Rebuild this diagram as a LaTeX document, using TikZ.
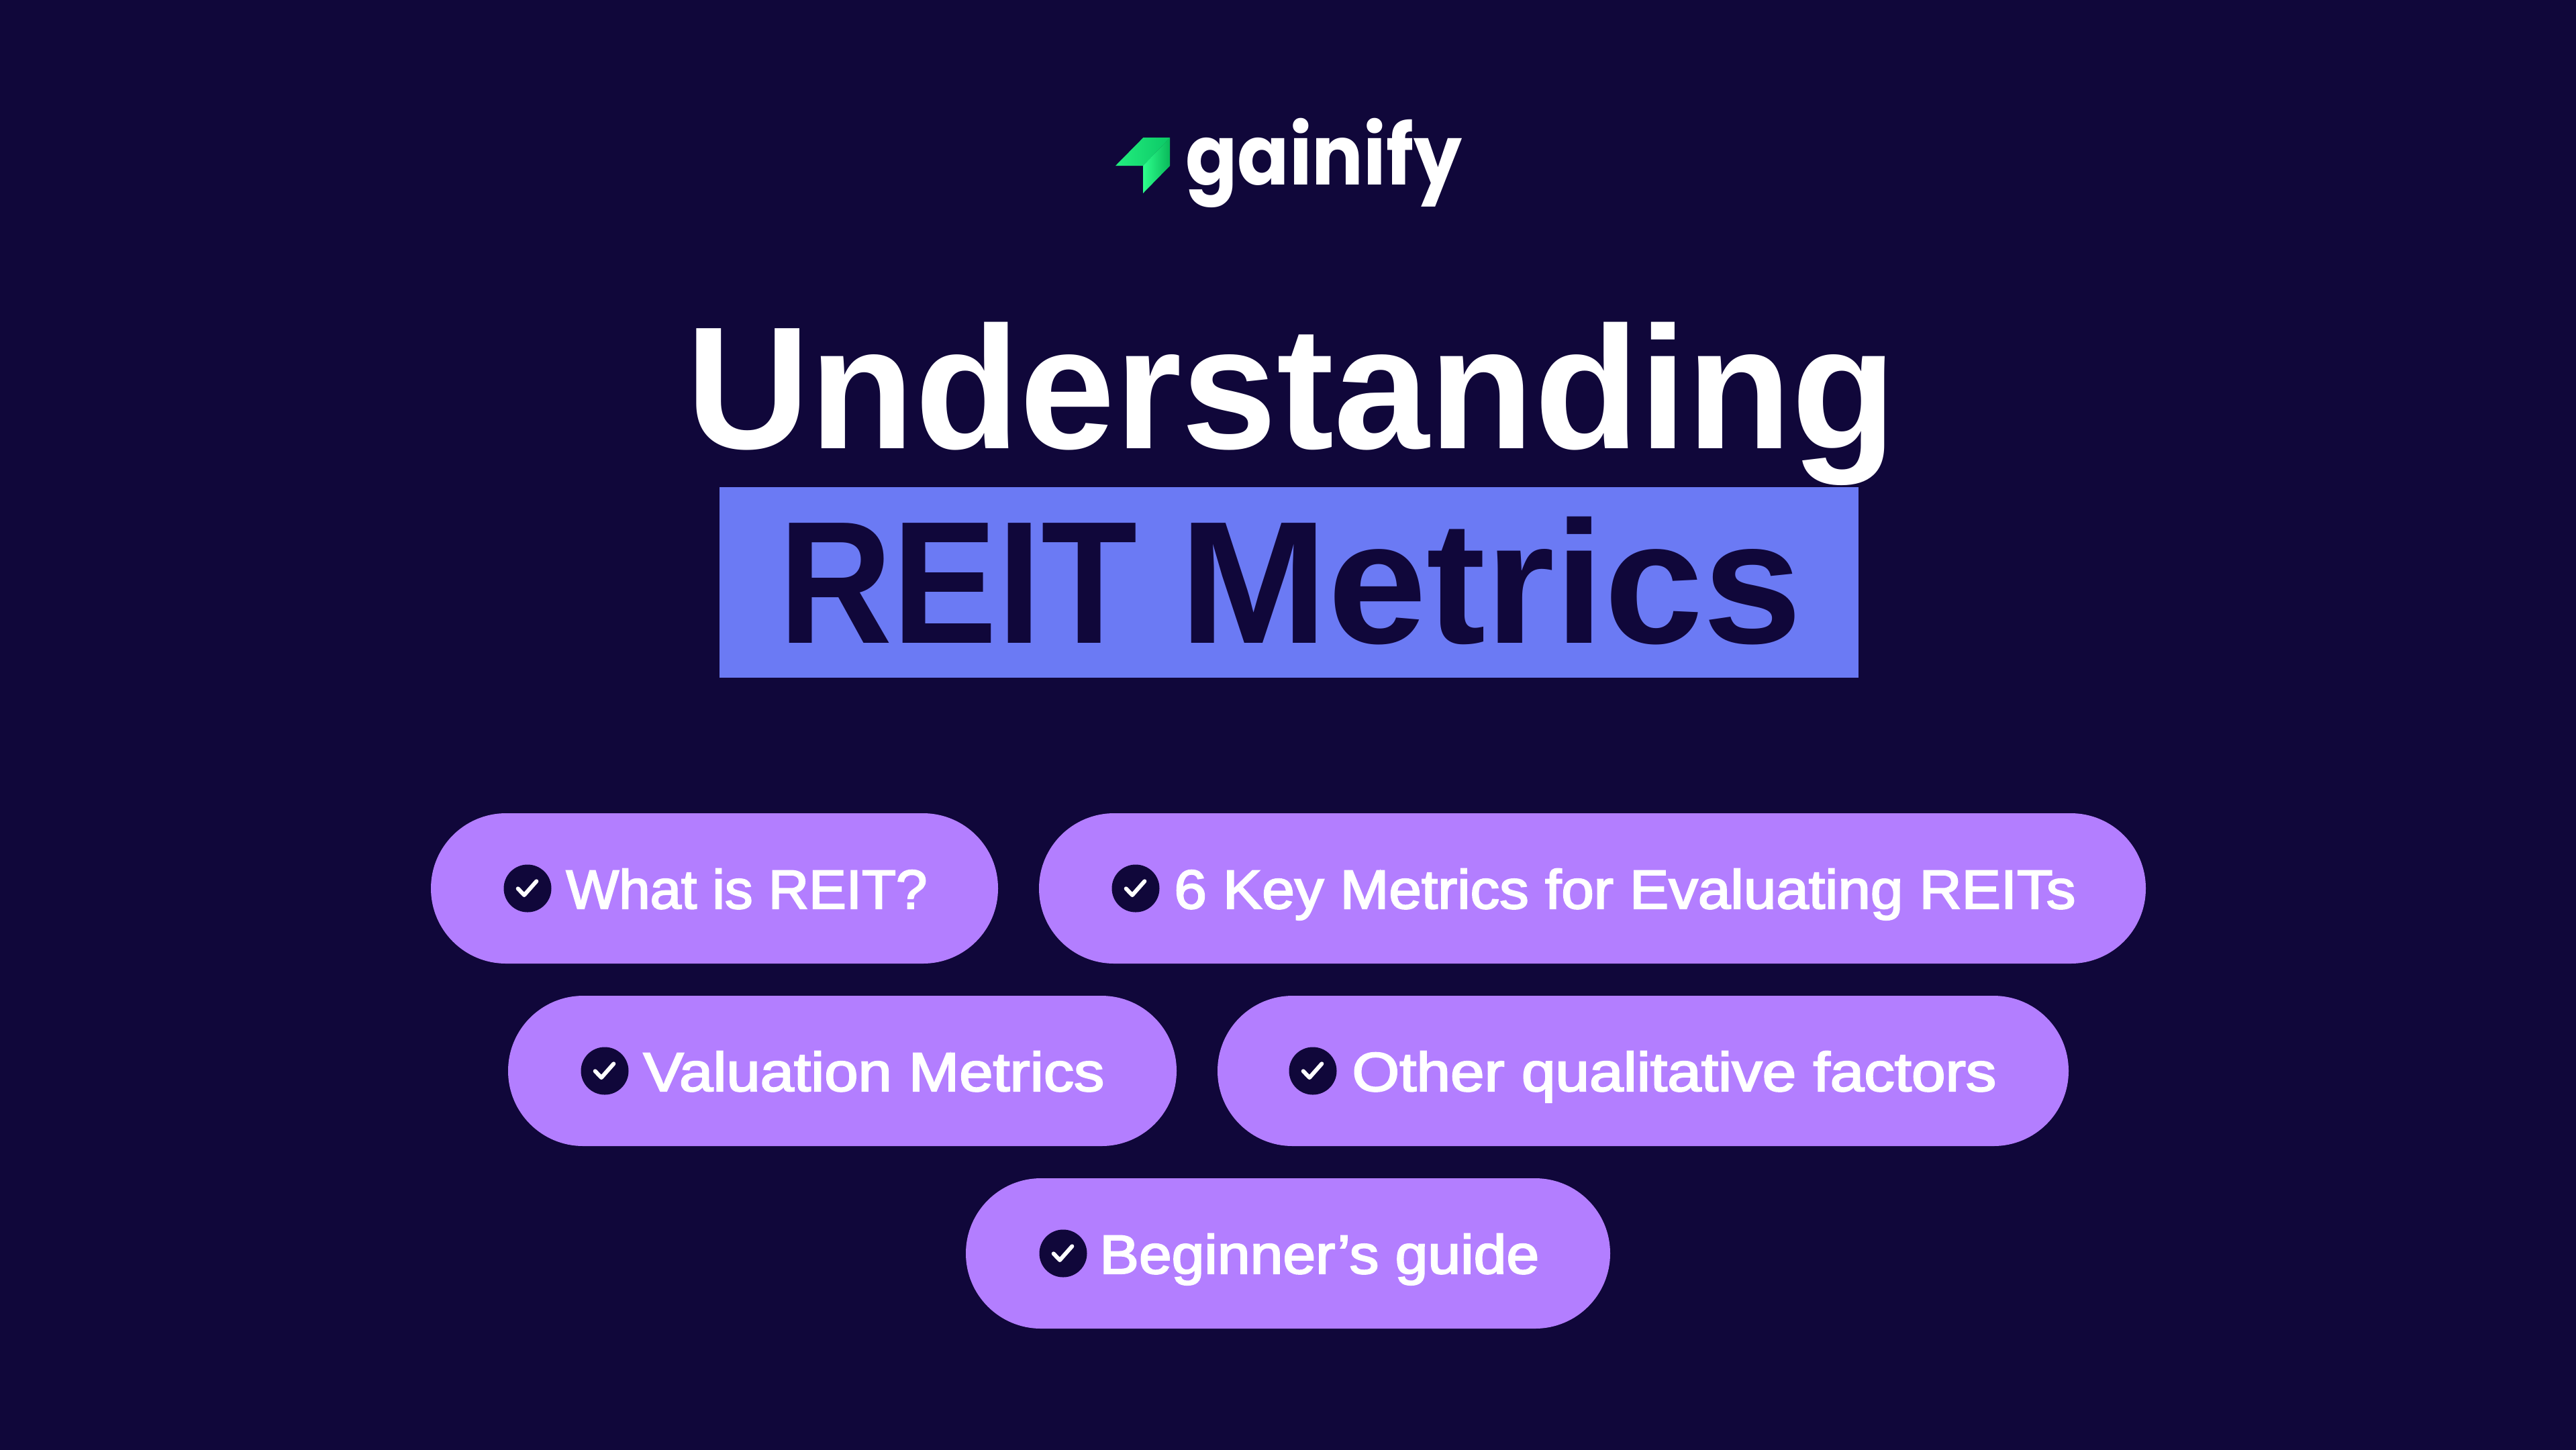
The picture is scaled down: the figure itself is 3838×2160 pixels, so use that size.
\documentclass[tikz,border=0pt]{standalone}
\usepackage{fontspec}
\usepackage{graphicx}
\setmainfont{Liberation Sans}
\newfontfamily\titlefont{Liberation Sans Bold}
\newfontfamily\pillfont{Liberation Sans}[FakeBold=2.6]
\newfontfamily\logofont{Poppins}[UprightFont=* Bold]
\usetikzlibrary{calc}
\definecolor{bgc}{HTML}{10073A}
\definecolor{pillc}{HTML}{B37EFF}
\definecolor{bluec}{HTML}{6B7AF4}
\definecolor{gra}{HTML}{2EFF8C}
\definecolor{grb}{HTML}{09B85A}
\definecolor{grc}{HTML}{22EE7E}
\definecolor{grd}{HTML}{0CC866}
\newcommand{\fitw}[2]{\resizebox{#1pt}{\height}{#2}}
\tikzset{
 pill/.style={fill=pillc,rounded corners=55.9pt,minimum height=112pt,inner sep=0pt,anchor=center},
 dot/.style={circle,fill=bgc,minimum size=35.5pt,inner sep=0pt,anchor=center},
 tick/.style={draw=white,line width=3pt,line cap=round,line join=round},
 lbl/.style={anchor=base west,inner sep=0pt,text=white,font=\pillfont\fontsize{41}{41}\selectfont},
 ttl/.style={anchor=base west,inner sep=0pt,font=\titlefont\fontsize{130}{130}\selectfont},
}
\begin{document}
\begin{tikzpicture}[x=0.5pt,y=-0.5pt]
\useasboundingbox (0,0) rectangle (3838,2160);
\fill[bgc] (-6,-6) rectangle (3844,2166);
% logo
\shade[left color=grc,right color=grd] (1662,247)--(1703.4,205)--(1743.2,205)--(1703,247)--cycle;
\shade[left color=gra,right color=grb] (1703,247)--(1743.2,205)--(1743.2,247)--(1703,288)--cycle;
\node[anchor=base west,inner sep=0pt,text=white,font=\logofont\fontsize{62}{62}\selectfont] (logo) at (1766,275) {\fitw{206}{gainify}};
% title
\node[ttl,text=white] (t1) at (1022,668) {\fitw{901.5}{Understanding}};
\fill[bluec] (1072,726) rectangle (2769,1010);
\node[ttl,text=bgc] (t2) at (1160,958) {\fitw{267}{REIT}\hspace{31.5pt}\fitw{464}{Metrics}};
% pills
\node[pill,minimum width=422.5pt] (p1) at (1064.5,1324) {};
\node[pill,minimum width=824.5pt] (p2) at (2372.5,1324) {};
\node[pill,minimum width=498pt] (p3) at (1255,1596) {};
\node[pill,minimum width=634pt] (p4) at (2448,1596) {};
\node[pill,minimum width=480pt] (p5) at (1919,1868) {};
% dots
\foreach \n/\x/\y in {d1/786/1324,d2/1692/1324,d3/901/1596,d4/1956/1596,d5/1584/1868}{
 \node[dot] (\n) at (\x,\y) {};
 \draw[tick] ($(\n)+(-14.3,0.3)$) -- ($(\n)+(-5,10)$) -- ($(\n)+(13.3,-10.7)$);
}
% labels
\node[lbl] (l1) at (843,1354) {\fitw{269}{What is REIT?}};
\node[lbl] (l2) at (1749,1354) {\fitw{671.5}{6 Key Metrics for Evaluating REITs}};
\node[lbl] (l3) at (958,1626) {\fitw{343.5}{Valuation Metrics}};
\node[lbl] (l4) at (2014,1626) {\fitw{480}{Other qualitative factors}};
\node[lbl] (l5) at (1638,1898) {\fitw{327.5}{Beginner’s guide}};
\end{tikzpicture}
\end{document}
